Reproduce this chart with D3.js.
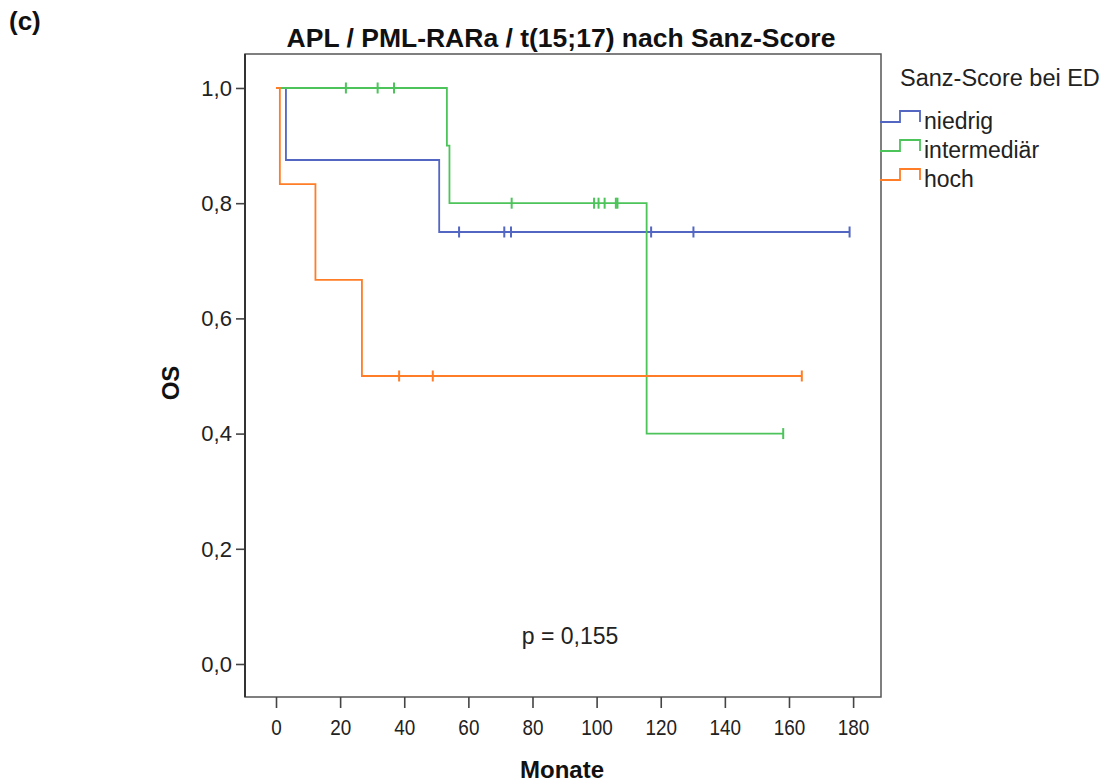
<!DOCTYPE html>
<html>
<head>
<meta charset="utf-8">
<script src="https://cdn.jsdelivr.net/npm/d3@7"></script>
<style>
  html, body { margin: 0; padding: 0; background: #fff; }
  svg { display: block; font-family: "Liberation Sans", Arial, sans-serif; }
  .xax .tick text { transform-box: fill-box; transform-origin: center; transform: scale(0.9, 1.08); }
  .yax .tick text { transform-box: fill-box; transform-origin: right center; transform: scale(1.05, 1.08); }
</style>
</head>
<body>
<svg id="chart" width="1103" height="782"></svg>
<script>
// ---- data ----
const groups = ["niedrig", "intermediär", "hoch"];
const niedrigEventTimes = [3.1, 50.9];
const niedrigSurvival = [1.0, 0.875, 0.75];
const niedrigCensored = [57.1, 71.2, 73.3, 117.0, 130.2, 178.9];
const niedrigEnd = 178.9;

const intermediarEventTimes = [53.3, 54.1, 115.6];
const intermediarSurvival = [1.0, 0.9, 0.8, 0.4];
const intermediarCensored = [21.8, 31.7, 36.8, 73.5, 99.2, 100.6, 102.5, 106.0, 106.5, 158.2];
const intermediarEnd = 158.2;

const hochEventTimes = [1.2, 12.3, 26.8];
const hochSurvival = [1.0, 0.833, 0.667, 0.5];
const hochCensored = [38.4, 48.9, 164.0];
const hochEnd = 164.0;

const xTicks = [0, 20, 40, 60, 80, 100, 120, 140, 160, 180];
const yTicks = [0.0, 0.2, 0.4, 0.6, 0.8, 1.0];

const titleText = "APL / PML-RARa / t(15;17) nach Sanz-Score";
const panelLabel = "(c)";
const xLabel = "Monate";
const yLabel = "OS";
const pText = "p = 0,155";
const legendTitle = "Sanz-Score bei ED";

const colors = { "niedrig": "#5266c2", "intermediär": "#4cc45a", "hoch": "#ff7d26" };

const series = [
  { name: "niedrig", times: niedrigEventTimes, surv: niedrigSurvival, cens: niedrigCensored, end: niedrigEnd },
  { name: "intermediär", times: intermediarEventTimes, surv: intermediarSurvival, cens: intermediarCensored, end: intermediarEnd },
  { name: "hoch", times: hochEventTimes, surv: hochSurvival, cens: hochCensored, end: hochEnd }
];

// ---- layout ----
const frame = { left: 245, right: 881, top: 54, bottom: 697 };
const svg = d3.select("#chart");

const x = d3.scaleLinear().domain([-9.67, 188.7]).range([frame.left, frame.right]);
const y = d3.scaleLinear().domain([-0.0573, 1.059]).range([frame.bottom, frame.top]);

// frame
svg.append("rect")
  .attr("x", frame.left).attr("y", frame.top)
  .attr("width", frame.right - frame.left).attr("height", frame.bottom - frame.top)
  .attr("fill", "#fff").attr("stroke", "#555").attr("stroke-width", 1.5);

// axes
const fmt = d => d3.format(".1f")(d).replace(".", ",");
const yAxis = svg.append("g").attr("class", "yax").attr("transform", `translate(${frame.left},0)`)
  .call(d3.axisLeft(y).tickValues(yTicks).tickFormat(fmt).tickSize(9).tickSizeOuter(0).tickPadding(4));
const xAxis = svg.append("g").attr("class", "xax").attr("transform", `translate(0,${frame.bottom})`)
  .call(d3.axisBottom(x).tickValues(xTicks).tickFormat(d3.format("d")).tickSize(11).tickSizeOuter(0).tickPadding(11));
[yAxis, xAxis].forEach(g => {
  g.select(".domain").remove();
  g.selectAll(".tick line").attr("stroke", "#444").attr("stroke-width", 1.6);
  g.selectAll(".tick text").attr("fill", "#222").style("font-size", "21px");
});
svg.append("line").attr("x1", frame.left).attr("x2", frame.left)
  .attr("y1", frame.top).attr("y2", frame.bottom).attr("stroke", "#333").attr("stroke-width", 2);

// curves
const line = d3.line().x(d => x(d[0])).y(d => y(d[1])).curve(d3.curveStepAfter);
series.forEach(s => {
  const pts = [[0, s.surv[0]]];
  s.times.forEach((t, i) => pts.push([t, s.surv[i + 1]]));
  pts.push([s.end, s.surv[s.surv.length - 1]]);
  svg.append("path").datum(pts)
    .attr("d", line).attr("fill", "none")
    .attr("stroke", colors[s.name]).attr("stroke-width", 1.8);

  const survAt = t => {
    let v = s.surv[0];
    s.times.forEach((et, i) => { if (t >= et) v = s.surv[i + 1]; });
    return v;
  };
  svg.append("g").selectAll("line").data(s.cens).join("line")
    .attr("x1", d => x(d)).attr("x2", d => x(d))
    .attr("y1", d => y(survAt(d)) - 5.5).attr("y2", d => y(survAt(d)) + 5.5)
    .attr("stroke", colors[s.name]).attr("stroke-width", 2);
});

// texts
svg.append("text").attr("x", 9).attr("y", 30).text(panelLabel)
  .style("font-weight", "bold").style("font-size", "26px").attr("fill", "#111");
svg.append("text").attr("x", 561).attr("y", 47).attr("text-anchor", "middle").text(titleText)
  .style("font-weight", "bold").style("font-size", "26.5px").attr("fill", "#111");
svg.append("text").attr("x", 562).attr("y", 778).attr("text-anchor", "middle").text(xLabel)
  .style("font-weight", "bold").style("font-size", "24px").attr("fill", "#111");
svg.append("text").attr("transform", "translate(179,383) rotate(-90)").attr("text-anchor", "middle").text(yLabel)
  .style("font-weight", "bold").style("font-size", "24px").attr("fill", "#111");
svg.append("text").attr("x", 570).attr("y", 644).attr("text-anchor", "middle").text(pText)
  .style("font-size", "23px").attr("fill", "#222");

// legend
svg.append("text").attr("x", 900).attr("y", 86).text(legendTitle)
  .style("font-size", "23.5px").attr("fill", "#222");
const lg = svg.append("g").selectAll("g").data(groups).join("g")
  .attr("transform", (d, i) => `translate(0,${i * 29})`);
lg.append("path")
  .attr("d", "M880,122 H900 V111 H920 V122")
  .attr("fill", "none").attr("stroke", d => colors[d]).attr("stroke-width", 1.8);
lg.append("text").attr("x", 924).attr("y", 129).text(d => d)
  .style("font-size", "23px").attr("fill", "#222");
</script>
</body>
</html>
